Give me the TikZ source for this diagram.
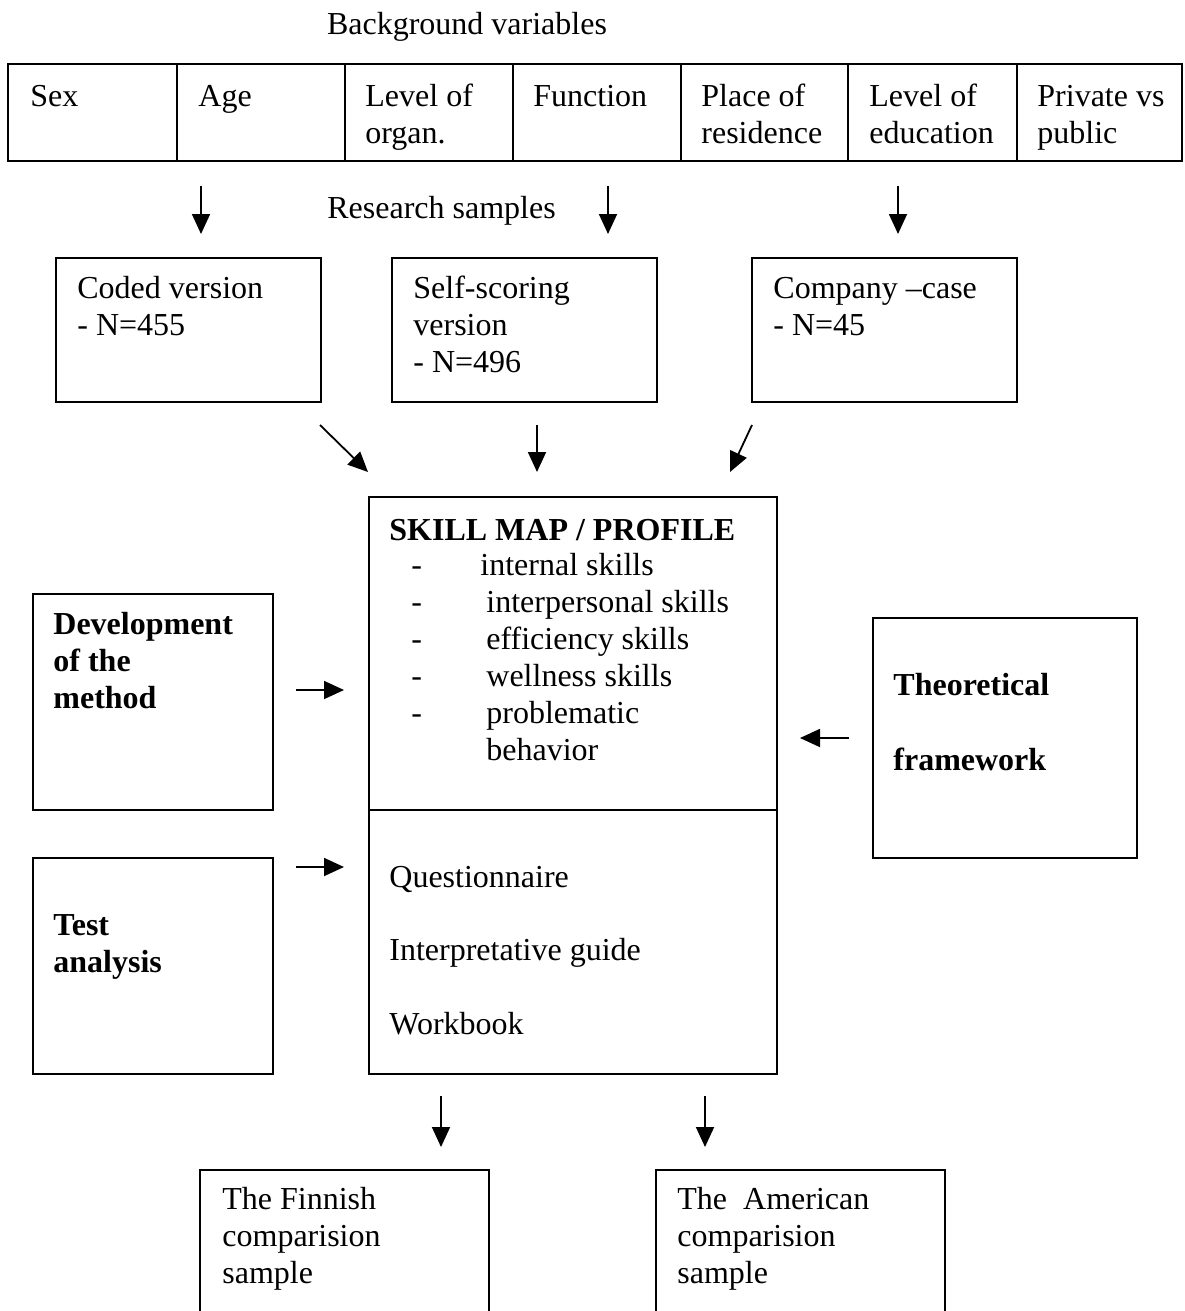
\documentclass[tikz,border=0pt]{standalone}
\usepackage{fontspec}
\setmainfont{Liberation Serif}
\usetikzlibrary{arrows.meta,fit}
\begin{document}
\begin{tikzpicture}[x=0.5pt,y=-0.5pt,
  box/.style={draw,line width=1pt,inner sep=0pt},
  cell/.style={draw,line width=1.2pt,inner sep=0pt},
  % multi-line nodes are placed by the baseline of their last line
  txt/.style={inner sep=0pt,anchor=base west,align=left,font=\fontsize{16}{18.5}\selectfont},
  ctxt/.style={txt,font=\fontsize{16}{18}\selectfont},
  btxt/.style={txt,font=\fontsize{16}{18.5}\selectfont\bfseries},
  arr/.style={line width=0.9pt,-{Triangle[length=10pt,width=9pt]}}]
\useasboundingbox (0,0) rectangle (1184,1311);

% heading
\node[inner sep=0pt,anchor=base,font=\fontsize{16}{18.5}\selectfont] (bghead) at (467,35) {Background variables};

% background variables table
\node[cell,fit={(8,64) (177,161)}] (c1) {};
\node[cell,fit={(177,64) (345,161)}] (c2) {};
\node[cell,fit={(345,64) (513,161)}] (c3) {};
\node[cell,fit={(513,64) (681,161)}] (c4) {};
\node[cell,fit={(681,64) (848,161)}] (c5) {};
\node[cell,fit={(848,64) (1017,161)}] (c6) {};
\node[cell,fit={(1017,64) (1182,161)}] (c7) {};
\node[ctxt] (t1) at (30,107) {Sex};
\node[ctxt] (t2) at (198,107) {Age};
\node[ctxt] (t3) at (365,143) {Level of\\organ.};
\node[ctxt] (t4) at (533,107) {Function};
\node[ctxt] (t5) at (701,143) {Place of\\residence};
\node[ctxt] (t6) at (869,143) {Level of\\education};
\node[ctxt] (t7) at (1037,143) {Private vs\\public};

% research samples
\node[txt] (rs) at (327,218) {Research samples};
\coordinate (r1a) at (201,186); \coordinate (r1b) at (201,234);
\coordinate (r2a) at (608,186); \coordinate (r2b) at (608,234);
\coordinate (r3a) at (898,186); \coordinate (r3b) at (898,234);
\draw[arr] (r1a) -- (r1b);
\draw[arr] (r2a) -- (r2b);
\draw[arr] (r3a) -- (r3b);

\node[box,fit={(56,258) (321,402)}] (coded) {};
\node[box,fit={(392,258) (657,402)}] (self) {};
\node[box,fit={(752,258) (1017,402)}] (company) {};
\node[txt] (codedt) at (77,335) {Coded version\\- N=455};
\node[txt] (selft) at (413,372) {Self-scoring\\version\\- N=496};
\node[txt] (companyt) at (773,335) {Company --case\\- N=45};

\coordinate (s1a) at (320,425); \coordinate (s1b) at (368,472);
\coordinate (s2a) at (537,425); \coordinate (s2b) at (537,472);
\coordinate (s3a) at (752,425); \coordinate (s3b) at (730,472);
\draw[arr] (s1a) -- (s1b);
\draw[arr] (s2a) -- (s2b);
\draw[arr] (s3a) -- (s3b);

% central skill map
\node[box,fit={(369,497) (777,1074)}] (map) {};
\draw[line width=1pt] (map.west |- 0,810) -- (map.east |- 0,810);
\node[btxt] (maph) at (389,540) {SKILL MAP / PROFILE};
\node[txt] (d1) at (411,575) {-};
\node[txt] (d2) at (411,612) {-};
\node[txt] (d3) at (411,649) {-};
\node[txt] (d4) at (411,686) {-};
\node[txt] (d5) at (411,723) {-};
\node[txt] (i1) at (480,575) {internal skills};
\node[txt] (i2) at (486,612) {interpersonal skills};
\node[txt] (i3) at (486,649) {efficiency skills};
\node[txt] (i4) at (486,686) {wellness skills};
\node[txt] (i5) at (486,760) {problematic\\behavior};
\node[txt] (q1) at (389,887) {Questionnaire};
\node[txt] (q2) at (389,960) {Interpretative guide};
\node[txt] (q3) at (389,1034) {Workbook};

% side boxes
\node[box,fit={(33,594) (273,810)}] (dev) {};
\node[btxt] (devt) at (53,708) {Development\\of the\\method};
\node[box,fit={(33,858) (273,1074)}] (test) {};
\node[btxt] (testt) at (53,972) {Test\\analysis};
\node[box,fit={(873,618) (1137,858)}] (theory) {};
\node[btxt] (theory1) at (893,695) {Theoretical};
\node[btxt] (theory2) at (893,770) {framework};

\coordinate (l1a) at (296,690); \coordinate (l1b) at (344,690);
\coordinate (l2a) at (296,867); \coordinate (l2b) at (344,867);
\coordinate (rta) at (849,738); \coordinate (rtb) at (800,738);
\draw[arr] (l1a) -- (l1b);
\draw[arr] (l2a) -- (l2b);
\draw[arr] (rta) -- (rtb);

% comparison samples
\coordinate (b1a) at (441,1096); \coordinate (b1b) at (441,1147);
\coordinate (b2a) at (705,1096); \coordinate (b2b) at (705,1147);
\draw[arr] (b1a) -- (b1b);
\draw[arr] (b2a) -- (b2b);
\draw[line width=1pt] (200,1311) |- (489,1170) -- (489,1311);
\draw[line width=1pt] (656,1311) |- (945,1170) -- (945,1311);
\node[txt] (fin) at (222,1283) {The Finnish\\comparision\\sample};
\node[txt] (ame) at (677,1283) {The\ \ American\\comparision\\sample};
\end{tikzpicture}
\end{document}
